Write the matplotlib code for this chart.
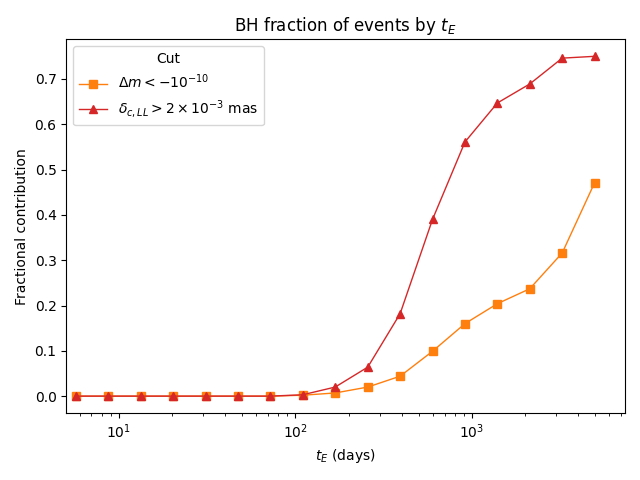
import matplotlib
matplotlib.use('Agg')
import matplotlib.pyplot as plt

# 事件持续时间 (days) 及两种 cut 下的 BH 比例
t_E = [5.7, 8.7, 13.3, 20.3, 31, 47.3, 72.2, 110, 168, 257, 392, 598, 913,
       1393, 2126, 3245, 4952]
frac_dm = [0, 0, 0, 0, 0, 0, 0, 0.002, 0.007, 0.020, 0.044, 0.099, 0.160,
           0.204, 0.237, 0.316, 0.471]
frac_delta = [0, 0, 0, 0, 0, 0, 0, 0.003, 0.020, 0.064, 0.182, 0.390, 0.561,
              0.647, 0.689, 0.746, 0.750]

fig, ax = plt.subplots(figsize=(6.4, 4.8), dpi=100)
ax.plot(t_E, frac_dm, marker='s', color='tab:orange', linewidth=1,
        label=r'$\Delta m < -10^{-10}$')
ax.plot(t_E, frac_delta, marker='^', color='tab:red', linewidth=1,
        label=r'$\delta_{c,LL} > 2 \times 10^{-3}$ mas')

ax.set_xscale('log')
ax.set_xlim(5.04, 7360)
ax.set_xlabel(r'$t_E$ (days)')
ax.set_ylabel('Fractional contribution')
ax.set_title(r'BH fraction of events by $t_E$')
ax.legend(title='Cut', loc='upper left')

plt.tight_layout()
plt.savefig('out.png')
